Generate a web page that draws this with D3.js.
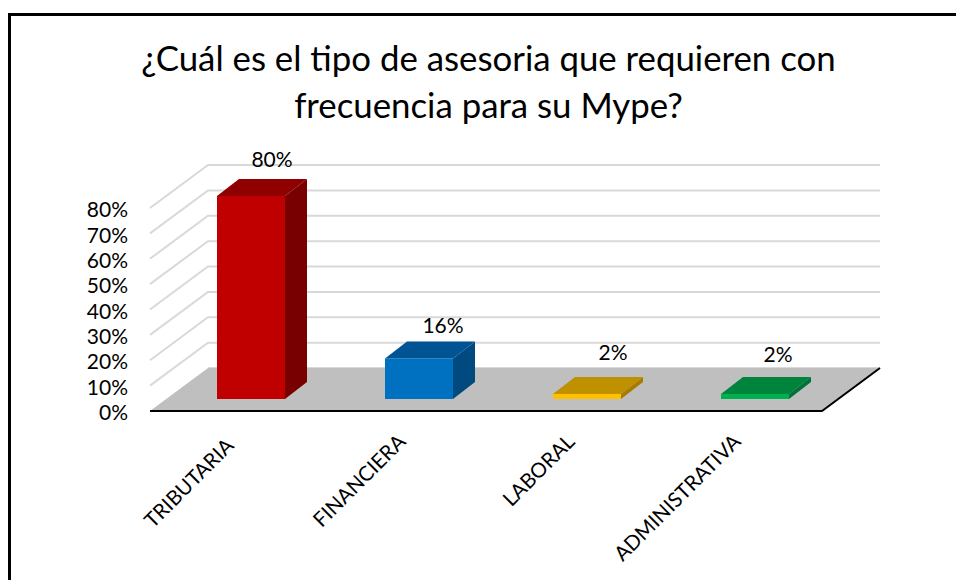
<!DOCTYPE html>
<html>
<head>
<meta charset="utf-8">
<script src="https://cdn.jsdelivr.net/npm/d3@7"></script>
<style>
  html, body { margin: 0; padding: 0; background: #fff; }
  svg { display: block; }
  text { font-family: Lato, "Open Sans", sans-serif; fill: #000; }
</style>
</head>
<body>
<div id="container"></div>
<script>
const categories = ["TRIBUTARIA", "FINANCIERA", "LABORAL", "ADMINISTRATIVA"];
const values = [0.80, 0.16, 0.02, 0.02];
const valueLabels = ["80%", "16%", "2%", "2%"];
const yTicks = [0, 0.1, 0.2, 0.3, 0.4, 0.5, 0.6, 0.7, 0.8];
const titleLines = ["¿Cuál es el tipo de asesoria que requieren con", "frecuencia para su Mype?"];
const frontColors = ["#C00000", "#0070C0", "#FFC000", "#00B050"];
const topColors = ["#8F0000", "#005494", "#BF9000", "#00843C"];
const sideColors = ["#780000", "#004A7F", "#A67B00", "#00733A"];

const w = 956;
const h = 580;
const depthX = 58;   // how far the floor goes back
const depthY = 43;
const barShiftX = 17;  // bars stand a bit inside the floor
const barShiftY = 12;
const barDepthX = 22;
const barDepthY = 17;
const barWidth = 68;
// labels were moved by hand in the original, so nudge them one by one
const labelDx = [-1, 2, 4, 1];
const labelDy = [-19, -15, -24, -22];
const categoryDx = [1, 5, 6, 4];
const categoryDy = [36, 32, 32, 32];

const svg = d3.select("#container").append("svg")
  .attr("width", w).attr("height", h);

// frame
svg.append("path")
  .attr("d", "M9.5," + h + "V14.5H" + w)
  .attr("fill", "none")
  .attr("stroke", "#000")
  .attr("stroke-width", 3);

svg.append("g").selectAll("text").data(titleLines).enter().append("text")
  .attr("x", 488.5)
  .attr("y", (d, i) => 71 + i * 47)
  .attr("text-anchor", "middle")
  .style("font-size", "34.8px")
  .text((d) => d);

const x = d3.scaleBand().domain(categories).range([150, 822]);
const y = d3.scaleLinear().domain([0, 0.8]).range([411, 208]);

const grid = svg.append("g")
  .attr("fill", "none")
  .attr("stroke", "#D9D9D9")
  .attr("stroke-width", 2);
grid.selectAll("path").data(yTicks.slice(1)).enter().append("path")
  .attr("d", (d) => "M150," + y(d) + "L" + (150 + depthX) + "," + (y(d) - depthY) + "H880");
grid.append("path")
  .attr("d", "M" + (150 + depthX) + "," + (y(0) - depthY) + "H880");

// floor
svg.append("path")
  .attr("d", "M150," + y(0) + "L" + (150 + depthX) + "," + (y(0) - depthY) + "H880L822," + y(0) + "Z")
  .attr("fill", "#BFBFBF");
svg.append("path")
  .attr("d", "M150," + y(0) + "H822L880," + (y(0) - depthY))
  .attr("fill", "none")
  .attr("stroke", "#000")
  .attr("stroke-width", 2);

const yAxis = d3.axisLeft(y).tickValues(yTicks).tickFormat(d3.format(".0%")).tickSize(0).tickPadding(22);
const yAxisGroup = svg.append("g")
  .attr("transform", "translate(150, 0)")
  .call(yAxis);
yAxisGroup.select(".domain").remove();
yAxisGroup.selectAll("text")
  .attr("y", 2)
  .style("font-size", "21px")
  .style("font-family", "Lato");

// bars, drawn as three faces
const bars = svg.selectAll(".bar").data(values).enter().append("g").attr("class", "bar");
const barLeft = (i) => x(categories[i]) + x.bandwidth() / 2 - barWidth / 2 + barShiftX;
const barTop = (d) => y(d) - barShiftY;
const barBottom = y(0) - barShiftY;

bars.append("path")
  .attr("fill", (d, i) => sideColors[i])
  .attr("d", (d, i) => {
    const r = barLeft(i) + barWidth;
    return "M" + r + "," + barTop(d) + "l" + barDepthX + "," + (-barDepthY) + "V" + (barBottom - barDepthY) + "L" + r + "," + barBottom + "Z";
  });
bars.append("path")
  .attr("fill", (d, i) => topColors[i])
  .attr("d", (d, i) => "M" + barLeft(i) + "," + barTop(d) + "l" + barDepthX + "," + (-barDepthY) + "h" + barWidth + "l" + (-barDepthX) + "," + barDepthY + "Z");
bars.append("rect")
  .attr("fill", (d, i) => frontColors[i])
  .attr("x", (d, i) => barLeft(i))
  .attr("y", (d) => barTop(d))
  .attr("width", barWidth)
  .attr("height", (d) => barBottom - barTop(d));

bars.append("text")
  .attr("x", (d, i) => barLeft(i) + barWidth / 2 + barDepthX + labelDx[i])
  .attr("y", (d) => barTop(d) - barDepthY)
  .attr("dy", (d, i) => labelDy[i] + 7)
  .attr("text-anchor", "middle")
  .style("font-size", "21px")
  .text((d, i) => valueLabels[i]);

// category labels at 45 degrees
const xAxis = d3.axisBottom(x).tickSize(0).tickPadding(0);
const xAxisGroup = svg.append("g")
  .attr("transform", "translate(0, " + y(0) + ")")
  .call(xAxis);
xAxisGroup.select(".domain").remove();
xAxisGroup.selectAll("text")
  .attr("y", 0)
  .attr("dy", 0)
  .attr("text-anchor", "end")
  .attr("transform", (d, i) => "translate(" + categoryDx[i] + ", " + categoryDy[i] + ") rotate(-45)")
  .style("font-size", "20.5px")
  .style("font-family", "Lato");
</script>
</body>
</html>
